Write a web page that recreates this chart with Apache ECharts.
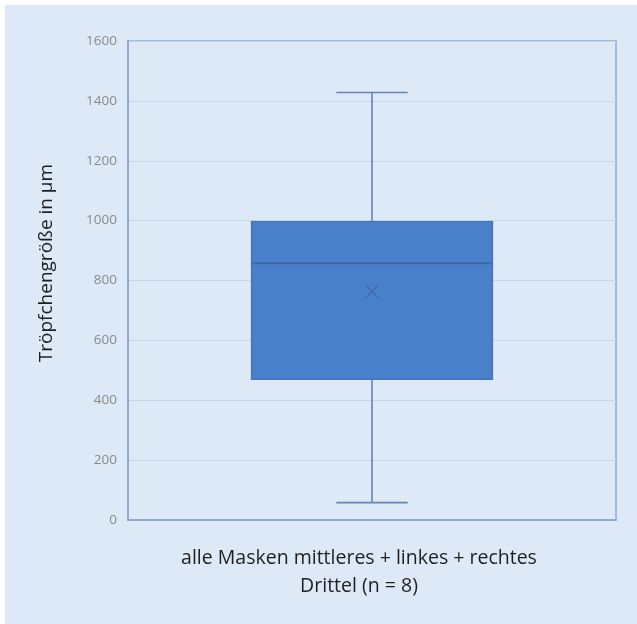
<!DOCTYPE html>
<html>
<head>
<meta charset="utf-8">
<script src="https://cdn.jsdelivr.net/npm/echarts@6/dist/echarts.min.js"></script>
<style>
  html, body { margin: 0; padding: 0; background: #ffffff; }
  #chart { width: 637px; height: 624px; }
</style>
</head>
<body>
<div id="chart"></div>
<script>
// Droplet size distribution, all masks (n = 8)
const categories = ['alle Masken mittleres + linkes + rechtes\nDrittel (n = 8)'];
// five-number summary per category: min, Q1, median, Q3, max
const whiskerMin = [58];
const quartile1 = [470];
const medians = [858];
const quartile3 = [997];
const whiskerMax = [1428];
const means = [763];
const yTicks = [0, 200, 400, 600, 800, 1000, 1200, 1400, 1600];
const yTitle = 'Tröpfchengröße in µm';

const boxData = categories.map((c, i) => [i, whiskerMin[i], quartile1[i], medians[i], quartile3[i], whiskerMax[i], means[i]]);

const chart = echarts.init(document.getElementById('chart'), null, { renderer: 'canvas' });
const FONT = '"Open Sans", "Noto Sans", sans-serif';

function renderBox(params, api) {
  const x = api.value(0);
  const band = api.size([1, 0])[0];
  const boxW = band * 0.494;
  const capW = band * 0.146;
  const pMin = api.coord([x, api.value(1)]);
  const pQ1 = api.coord([x, api.value(2)]);
  const pMed = api.coord([x, api.value(3)]);
  const pQ3 = api.coord([x, api.value(4)]);
  const pMax = api.coord([x, api.value(5)]);
  const pMean = api.coord([x, api.value(6)]);
  const cx = pMed[0];
  const whisker = { stroke: '#6583b8', lineWidth: 1.6 };
  const m = 5.5;
  return {
    type: 'group',
    children: [
      { type: 'line', shape: { x1: cx, y1: pMax[1], x2: cx, y2: pQ3[1] }, style: whisker },
      { type: 'line', shape: { x1: cx - capW / 2, y1: pMax[1], x2: cx + capW / 2, y2: pMax[1] }, style: whisker },
      { type: 'line', shape: { x1: cx, y1: pQ1[1], x2: cx, y2: pMin[1] }, style: whisker },
      { type: 'line', shape: { x1: cx - capW / 2, y1: pMin[1], x2: cx + capW / 2, y2: pMin[1] }, style: whisker },
      { type: 'rect', shape: { x: cx - boxW / 2, y: pQ3[1], width: boxW, height: pQ1[1] - pQ3[1] },
        style: { fill: '#4a7fca', stroke: '#4274be', lineWidth: 1.2 } },
      { type: 'line', shape: { x1: cx - boxW / 2, y1: pMed[1], x2: cx + boxW / 2, y2: pMed[1] },
        style: { stroke: '#3c67aa', lineWidth: 2 } },
      { type: 'line', shape: { x1: cx - m, y1: pMean[1] - m, x2: cx + m, y2: pMean[1] + m },
        style: { stroke: '#3f67a8', lineWidth: 1.3 } },
      { type: 'line', shape: { x1: cx - m, y1: pMean[1] + m, x2: cx + m, y2: pMean[1] - m },
        style: { stroke: '#3f67a8', lineWidth: 1.3 } }
    ]
  };
}

chart.setOption({
  animation: false,
  textStyle: { fontFamily: FONT },
  graphic: [{
    type: 'rect', z: -10, silent: true,
    shape: { x: 5, y: 5, width: 632, height: 619 },
    style: { fill: '#dde9f6' }
  }, {
    type: 'text', silent: true,
    x: 47, y: 263, rotation: Math.PI / 2,
    style: {
      text: yTitle, fill: '#1f1f1f', font: '19px ' + FONT,
      align: 'center', verticalAlign: 'middle'
    }
  }],
  grid: {
    left: 128, top: 41, right: 21, bottom: 104,
    show: true, borderColor: '#8eaad3', borderWidth: 1.5, backgroundColor: 'transparent'
  },
  xAxis: {
    type: 'category',
    data: categories,
    axisLine: { show: true, lineStyle: { color: '#8eaad3', width: 2 } },
    axisTick: { show: false },
    axisLabel: { color: '#1f1f1f', fontSize: 19.5, lineHeight: 28, margin: 24, padding: [0, 26, 0, 0] },
    splitLine: { show: false }
  },
  yAxis: {
    type: 'value',
    min: yTicks[0], max: yTicks[yTicks.length - 1], interval: 200,
    axisLine: { show: true, lineStyle: { color: '#8eaad3', width: 2 } },
    axisTick: { show: false },
    axisLabel: { color: '#8a8a8a', fontSize: 13.5, margin: 11, formatter: v => String(v) },
    splitLine: { lineStyle: { color: '#c6d4e4', width: 1.2 } }
  },
  series: [{
    type: 'custom',
    renderItem: renderBox,
    data: boxData,
    encode: { x: 0, y: [1, 2, 3, 4, 5] },
    z: 5
  }]
});
</script>
</body>
</html>
